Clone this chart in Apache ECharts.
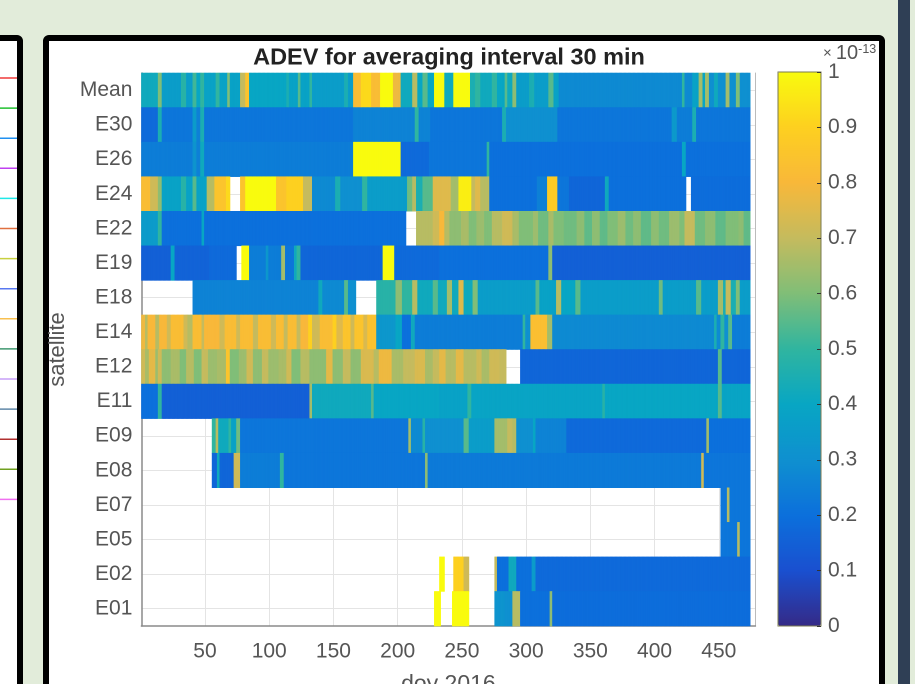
<!DOCTYPE html>
<html><head><meta charset="utf-8">
<style>html,body{margin:0;padding:0;background:#e2ecda;overflow:hidden}#c{width:915px;height:684px;filter:blur(0.6px)}</style>
<script src="https://cdn.jsdelivr.net/npm/echarts@6/dist/echarts.min.js"></script>
</head><body><div id="c"></div>
<script>
const satellites = ['Mean','E30','E26','E24','E22','E19','E18','E14','E12','E11','E09','E08','E07','E05','E02','E01'];
const xTickLabels = [50,100,150,200,250,300,350,400,450];
const columnCount = 478;
const colorbarStops = ['#352a87','#1a50d0','#0c70dc','#0f90d0','#08a6c4','#30b5a0','#80be78','#c5bb5e','#f8b83a','#fdd020','#f9fb0e'];
const sideLineColors = ['#f03a3a','#20c030','#2090f0','#c040f0','#20e8e8','#e07040','#c8d040','#5878f0','#f8c050','#409870','#c8a0f8','#6088a8','#b03030','#70a020','#f070f0'];

// each row: runs of [first column, value in units of 1e-13]; null = no data
const rowMean = [[1,.42],[14,.6],[17,.36],[32,.48],[36,.36],[41,.52],[44,.4],[47,.5],[50,.38],[59,.5],[62,.38],[68,.6],[70,.38],[78,.7],[82,.85],[85,.4],[114,.45],[116,.38],[123,.55],[125,.38],[132,.5],[134,.36],[159,.45],[162,.36],[166,.82],[172,.92],[180,.82],[187,1],[197,.78],[203,.42],[212,.68],[216,.4],[220,.55],[224,.4],[229,1],[237,.42],[244,1],[257,.45],[261,.5],[265,.42],[274,.5],[278,.4],[284,.55],[286,.42],[290,.62],[293,.36],[303,.45],[307,.36],[318,.55],[322,.38],[326,.28],[422,.5],[424,.28],[430,.38],[435,.65],[438,.4],[440,.65],[443,.3],[447,.42],[450,.3],[456,.65],[459,.3],[464,.6],[467,.3],[475,null]];
const rowE30 = [[1,.18],[14,.45],[17,.22],[41,.35],[44,.25],[47,.45],[50,.22],[166,.26],[214,.5],[217,.26],[226,.22],[282,.45],[285,.3],[325,.22],[414,.34],[418,.24],[430,.45],[433,.22],[475,null]];
const rowE26 = [[1,.24],[41,.32],[44,.25],[47,.42],[50,.24],[166,1],[203,.18],[225,.22],[270,.5],[272,.2],[422,.4],[425,.2],[475,null]];
const rowE24 = [[1,.82],[8,.72],[14,.62],[17,.38],[32,.48],[36,.38],[41,.55],[44,.38],[52,.68],[58,.85],[67,.92],[70,null],[78,.85],[82,1],[106,.85],[114,.9],[127,.7],[134,.28],[152,.45],[156,.3],[173,.5],[177,.36],[208,.58],[212,.68],[215,.45],[220,.55],[228,.75],[242,.65],[248,.97],[258,.7],[261,.75],[265,.68],[272,.2],[309,.25],[317,.88],[325,.22],[334,.17],[362,.42],[365,.2],[425,null],[429,.19],[475,null]];
const rowE22 = [[1,.35],[14,.5],[17,.2],[48,.4],[50,.2],[207,null],[215,.68],[228,.72],[233,.8],[237,.68],[241,.62],[250,.66],[256,.6],[262,.64],[268,.6],[274,.68],[282,.72],[290,.66],[295,.6],[306,.64],[310,.58],[318,.66],[322,.6],[330,.58],[340,.62],[346,.56],[352,.62],[358,.56],[364,.6],[372,.64],[378,.58],[384,.62],[390,.56],[398,.62],[404,.58],[412,.64],[420,.6],[424,.7],[432,.58],[440,.62],[448,.56],[456,.6],[466,.62],[470,.56],[475,null]];
const rowE19 = [[1,.15],[24,.4],[27,.16],[54,.18],[75,null],[79,1],[85,.24],[98,.33],[100,.24],[110,.65],[113,.22],[120,.42],[122,.5],[125,.17],[189,1],[198,.18],[233,.2],[318,.62],[321,.15],[475,null]];
const rowE18 = [[1,null],[41,.26],[139,.42],[142,.28],[159,.55],[162,.3],[168,null],[184,.48],[199,.62],[204,.5],[212,.68],[216,.42],[228,.55],[232,.42],[239,.65],[243,.42],[248,.75],[252,.42],[259,.6],[263,.36],[308,.55],[311,.38],[324,.68],[328,.4],[339,.55],[343,.36],[404,.58],[407,.36],[433,.55],[437,.36],[450,.65],[454,.45],[456,.7],[460,.45],[464,.6],[467,.36],[475,null]];
const rowE14 = [[1,.78],[4,.68],[6,.8],[12,.68],[15,.8],[21,.72],[24,.82],[34,.72],[37,.68],[41,.82],[48,.7],[50,.8],[62,.72],[66,.82],[75,.72],[78,.82],[88,.7],[92,.82],[102,.72],[106,.82],[112,.7],[115,.82],[122,.7],[125,.8],[131,.9],[134,.72],[140,.82],[150,.9],[153,.75],[158,.85],[164,.72],[167,.85],[174,.74],[177,.84],[184,.33],[199,.4],[204,.2],[211,.42],[214,.24],[298,.5],[300,.3],[304,.83],[317,.65],[321,.28],[447,.45],[449,.28],[452,.5],[455,.3],[458,.55],[461,.24],[475,null]];
const rowE12 = [[1,.72],[4,.66],[7,.76],[12,.64],[14,.72],[17,.62],[24,.66],[31,.6],[36,.68],[42,.6],[48,.7],[53,.64],[60,.66],[67,.85],[70,.6],[77,.64],[83,.72],[88,.62],[95,.7],[100,.64],[108,.66],[114,.72],[118,.6],[125,.68],[132,.62],[145,.76],[150,.62],[158,.7],[164,.62],[172,.74],[182,.68],[186,.78],[196,.66],[205,.7],[214,.74],[222,.66],[228,.7],[233,.76],[238,.68],[246,.76],[252,.68],[262,.72],[266,.66],[272,.72],[280,.7],[285,null],[296,.17],[450,.55],[453,.17],[475,null]];
const rowE11 = [[1,.2],[14,.5],[17,.15],[132,.65],[134,.42],[180,.55],[182,.4],[233,.38],[255,.5],[258,.39],[360,.48],[362,.4],[450,.55],[453,.39],[475,null]];
const rowE09 = [[1,null],[56,.5],[59,.68],[61,.42],[69,.5],[71,.38],[75,.58],[78,.22],[209,.65],[211,.28],[220,.48],[222,.3],[252,.55],[256,.36],[276,.65],[286,.7],[290,.68],[293,.3],[306,.4],[308,.26],[332,.18],[441,.65],[443,.2],[475,null]];
const rowE08 = [[1,null],[56,.17],[60,.42],[62,.17],[73,.72],[78,.24],[109,.5],[112,.22],[222,.62],[224,.23],[437,.72],[439,.22],[475,null]];
const rowE07 = [[1,null],[452,.22],[457,.68],[459,.22],[475,null]];
const rowE05 = [[1,null],[452,.22],[465,.68],[467,.22],[475,null]];
const rowE02 = [[1,null],[233,1],[237,null],[244,.9],[252,.72],[256,null],[276,.7],[278,.2],[287,.42],[293,.2],[305,.35],[308,.18],[475,null]];
const rowE01 = [[1,null],[229,1],[234,null],[243,1],[256,null],[276,.32],[284,.3],[290,.68],[296,.2],[319,.62],[321,.19],[475,null]];
const rows = [rowMean,rowE30,rowE26,rowE24,rowE22,rowE19,rowE18,rowE14,rowE12,rowE11,rowE09,rowE08,rowE07,rowE05,rowE02,rowE01];

const columns = [];
for (let c = 1; c <= columnCount; c++) columns.push(String(c));
const cells = [];
rows.forEach((runs, r) => {
  runs.forEach((run, i) => {
    const end = i + 1 < runs.length ? runs[i + 1][0] : columnCount + 1;
    if (run[1] === null) return;
    for (let c = run[0]; c < end; c++) cells.push([c - 1, r, run[1]]);
  });
});

const isTick = (i, v) => xTickLabels.indexOf(Number(v)) >= 0;
const grey = '#8a8a8a', txt = '#555';
const graphics = [
  {type:'rect',z:-10,silent:true,shape:{x:-10,y:38,width:30,height:700,r:3},style:{fill:'#fff',stroke:'#000',lineWidth:6}},
  {type:'rect',z:-10,silent:true,shape:{x:46,y:38,width:836,height:700,r:3},style:{fill:'#fff',stroke:'#000',lineWidth:6}},
  {type:'rect',z:-10,silent:true,shape:{x:898,y:0,width:12,height:684},style:{fill:'#2f3f55'}},
  {type:'rect',z:20,silent:true,shape:{x:778,y:72,width:43,height:554},style:{fill:'none',stroke:'#7a7a50',lineWidth:1}},
  {type:'text',z:20,left:823,top:43,style:{text:'{a|× }{b|10}{c|-13}',rich:{a:{fontSize:15,fill:txt,fontFamily:'Liberation Sans'},b:{fontSize:20,fill:txt,fontFamily:'Liberation Sans'},c:{fontSize:12.5,fill:txt,fontFamily:'Liberation Sans',verticalAlign:'top',padding:[0,0,8,0]}}}}
];
const sideStart = 78, sideStep = 30.1;
sideLineColors.forEach((col, i) => graphics.push({type:'line',z:-5,silent:true,shape:{x1:0,y1:sideStart+i*sideStep,x2:17,y2:sideStart+i*sideStep},style:{stroke:col,lineWidth:1.5}}));

const chart = echarts.init(document.getElementById('c'), null, {renderer:'canvas',devicePixelRatio:2});
chart.setOption({
  animation:false,
  backgroundColor:'#e2ecda',
  textStyle:{fontFamily:'Liberation Sans'},
  title:{text:'ADEV for averaging interval 30 min',left:444,textAlign:'center',top:41,textStyle:{fontSize:23.5,fontWeight:'bold',color:'#222',fontFamily:'Liberation Sans'}},
  graphic:graphics,
  grid:[
    {left:141.4,top:73,width:614,height:553,containLabel:false,outerBoundsMode:'none'},
    {left:778,top:72,width:43,height:554,containLabel:false,outerBoundsMode:'none'}
  ],
  xAxis:[
    {gridIndex:0,type:'category',data:columns,boundaryGap:true,name:'doy 2016',nameLocation:'middle',nameGap:47,nameTextStyle:{fontSize:23,color:txt},
     axisLine:{lineStyle:{color:grey,width:1.5}},axisTick:{inside:true,length:6,alignWithLabel:true,interval:isTick,lineStyle:{color:grey}},
     axisLabel:{interval:isTick,fontSize:21,color:txt,margin:15},splitLine:{show:true,alignWithLabel:true,interval:isTick,lineStyle:{color:'#e4e4e4'}}},
    {gridIndex:1,type:'value',min:0,max:1,show:false}
  ],
  yAxis:[
    {gridIndex:0,type:'category',data:satellites,inverse:true,name:'satellite',nameLocation:'middle',nameGap:69,nameRotate:90,nameTextStyle:{fontSize:22,color:txt},
     axisLine:{lineStyle:{color:grey,width:1.5}},axisTick:{inside:true,length:6,alignWithLabel:true,lineStyle:{color:grey}},
     axisLabel:{fontSize:21,color:txt,margin:9,interval:0},splitLine:{show:true,alignWithLabel:true,interval:0,lineStyle:{color:'#e4e4e4'}}},
    {gridIndex:0,type:'category',data:satellites,inverse:true,position:'right',
     axisLine:{onZero:false,lineStyle:{color:'#bbb'}},axisTick:{inside:true,length:6,alignWithLabel:true,lineStyle:{color:grey}},axisLabel:{show:false},splitLine:{show:false}},
    {gridIndex:1,type:'value',min:0,max:1,interval:0.1,position:'right',z:30,
     axisLine:{show:false,onZero:false},axisTick:{show:true,inside:false,length:-4,lineStyle:{color:'#333'}},
     axisLabel:{fontSize:21,color:txt,margin:7,formatter:v=>String(Math.round(v*10)/10)},splitLine:{show:false}}
  ],
  visualMap:{type:'continuous',min:0,max:1,seriesIndex:0,calculable:false,realtime:false,orient:'vertical',align:'left',left:778,top:72,padding:0,itemWidth:43,itemHeight:554,text:null,showLabel:false,
    inRange:{color:colorbarStops},outOfRange:{color:'transparent'},textStyle:{fontSize:0},z:4},
  series:[{type:'heatmap',xAxisIndex:0,yAxisIndex:0,data:cells,progressive:0,itemStyle:{borderWidth:0},emphasis:{disabled:true},silent:true}]
});
</script></body></html>
